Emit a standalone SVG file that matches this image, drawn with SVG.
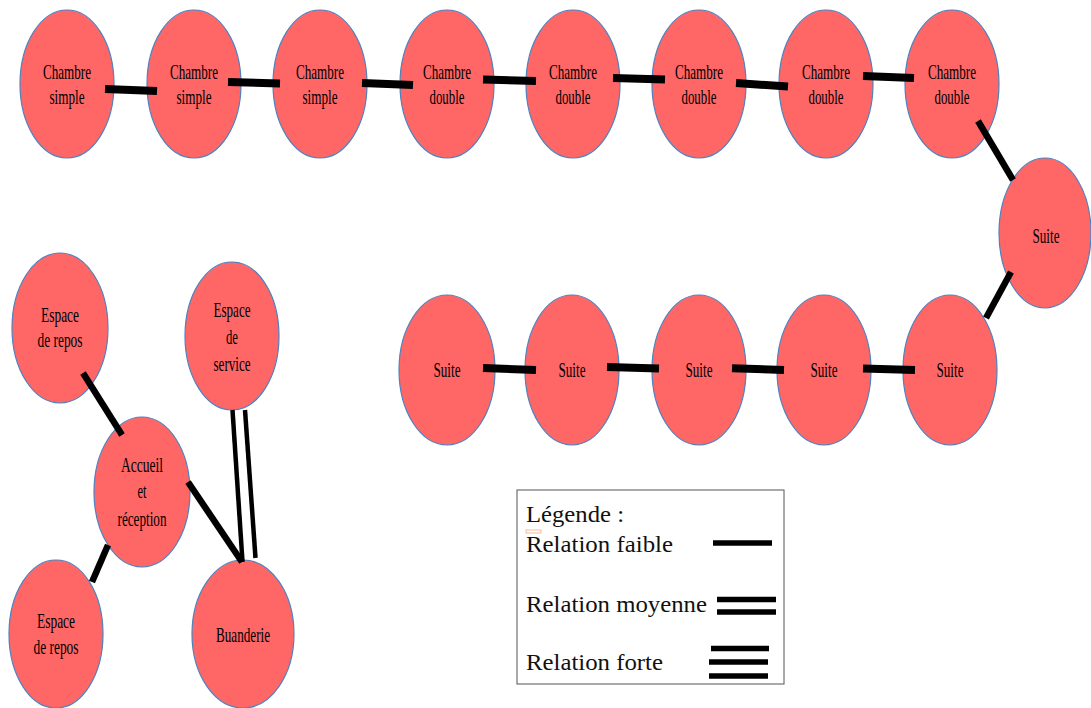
<svg xmlns="http://www.w3.org/2000/svg" width="1091" height="708" viewBox="0 0 1091 708">
<style>
.n ellipse{fill:#FF6666;stroke:#4F81BD;stroke-width:1.2}
.n text{font-family:"Liberation Serif","Times New Roman",serif;font-size:22px;fill:#000;text-anchor:middle}
.c line{stroke:#000;stroke-width:8}
.c line.d{stroke-width:6.5}
.c line.t{stroke-width:4.5}
.lg text{font-family:"Liberation Serif","Times New Roman",serif;font-size:24px;fill:#111}
.lg line{stroke:#000;stroke-width:5.5}
</style>
<rect width="1091" height="708" fill="#fff"/>
<g id="n1" class="n"><ellipse cx="67" cy="84" rx="47" ry="74"/><text x="67" y="79" textLength="48" lengthAdjust="spacingAndGlyphs">Chambre</text><text x="67" y="104" textLength="35" lengthAdjust="spacingAndGlyphs">simple</text></g>
<g id="n2" class="n"><ellipse cx="194" cy="84" rx="47" ry="74"/><text x="194" y="79" textLength="48" lengthAdjust="spacingAndGlyphs">Chambre</text><text x="194" y="104" textLength="35" lengthAdjust="spacingAndGlyphs">simple</text></g>
<g id="n3" class="n"><ellipse cx="320" cy="84" rx="47" ry="74"/><text x="320" y="79" textLength="48" lengthAdjust="spacingAndGlyphs">Chambre</text><text x="320" y="104" textLength="35" lengthAdjust="spacingAndGlyphs">simple</text></g>
<g id="n4" class="n"><ellipse cx="447" cy="84" rx="47" ry="74"/><text x="447" y="79" textLength="48" lengthAdjust="spacingAndGlyphs">Chambre</text><text x="447" y="104" textLength="35" lengthAdjust="spacingAndGlyphs">double</text></g>
<g id="n5" class="n"><ellipse cx="573" cy="84" rx="47" ry="74"/><text x="573" y="79" textLength="48" lengthAdjust="spacingAndGlyphs">Chambre</text><text x="573" y="104" textLength="35" lengthAdjust="spacingAndGlyphs">double</text></g>
<g id="n6" class="n"><ellipse cx="699" cy="84" rx="47" ry="74"/><text x="699" y="79" textLength="48" lengthAdjust="spacingAndGlyphs">Chambre</text><text x="699" y="104" textLength="35" lengthAdjust="spacingAndGlyphs">double</text></g>
<g id="n7" class="n"><ellipse cx="826" cy="84" rx="47" ry="74"/><text x="826" y="79" textLength="48" lengthAdjust="spacingAndGlyphs">Chambre</text><text x="826" y="104" textLength="35" lengthAdjust="spacingAndGlyphs">double</text></g>
<g id="n8" class="n"><ellipse cx="952" cy="84" rx="47" ry="74"/><text x="952" y="79" textLength="48" lengthAdjust="spacingAndGlyphs">Chambre</text><text x="952" y="104" textLength="35" lengthAdjust="spacingAndGlyphs">double</text></g>
<g id="n9" class="n"><ellipse cx="1045" cy="233" rx="46" ry="75"/><text x="1046" y="243" textLength="27" lengthAdjust="spacingAndGlyphs">Suite</text></g>
<g id="n10" class="n"><ellipse cx="950" cy="370" rx="47" ry="75"/><text x="950" y="377" textLength="27" lengthAdjust="spacingAndGlyphs">Suite</text></g>
<g id="n11" class="n"><ellipse cx="824" cy="370" rx="47" ry="75"/><text x="824" y="377" textLength="27" lengthAdjust="spacingAndGlyphs">Suite</text></g>
<g id="n12" class="n"><ellipse cx="699" cy="370" rx="47" ry="75"/><text x="699" y="377" textLength="27" lengthAdjust="spacingAndGlyphs">Suite</text></g>
<g id="n13" class="n"><ellipse cx="572" cy="370" rx="47" ry="75"/><text x="572" y="377" textLength="27" lengthAdjust="spacingAndGlyphs">Suite</text></g>
<g id="n14" class="n"><ellipse cx="447" cy="370" rx="48" ry="75"/><text x="447" y="377" textLength="27" lengthAdjust="spacingAndGlyphs">Suite</text></g>
<g id="n15" class="n"><ellipse cx="60" cy="328" rx="48" ry="75"/><text x="60" y="322" textLength="38" lengthAdjust="spacingAndGlyphs">Espace</text><text x="60" y="347" textLength="45" lengthAdjust="spacingAndGlyphs">de repos</text></g>
<g id="n16" class="n"><ellipse cx="232" cy="336" rx="47" ry="74"/><text x="232" y="317" textLength="37" lengthAdjust="spacingAndGlyphs">Espace</text><text x="232" y="344" textLength="12" lengthAdjust="spacingAndGlyphs">de</text><text x="232" y="371" textLength="37" lengthAdjust="spacingAndGlyphs">service</text></g>
<g id="n17" class="n"><ellipse cx="142" cy="492" rx="48" ry="75"/><text x="142" y="472" textLength="42" lengthAdjust="spacingAndGlyphs">Accueil</text><text x="142" y="498" textLength="9" lengthAdjust="spacingAndGlyphs">et</text><text x="142" y="526" textLength="49" lengthAdjust="spacingAndGlyphs">réception</text></g>
<g id="n18" class="n"><ellipse cx="56" cy="634" rx="47" ry="74"/><text x="56" y="628" textLength="38" lengthAdjust="spacingAndGlyphs">Espace</text><text x="56" y="654" textLength="45" lengthAdjust="spacingAndGlyphs">de repos</text></g>
<g id="n19" class="n"><ellipse cx="243" cy="634" rx="51" ry="74"/><text x="243" y="642" textLength="54" lengthAdjust="spacingAndGlyphs">Buanderie</text></g>
<g id="connectors" class="c">
<line x1="105" y1="89" x2="157" y2="91"/>
<line x1="228" y1="82" x2="280" y2="83.5"/>
<line x1="362" y1="83" x2="413" y2="85"/>
<line x1="483" y1="79.5" x2="536" y2="81"/>
<line x1="613" y1="78" x2="665" y2="79.5"/>
<line x1="736" y1="83" x2="788" y2="86.5"/>
<line x1="863" y1="76" x2="914" y2="78"/>
<line class="d" x1="978" y1="121" x2="1013" y2="180"/>
<line class="d" x1="1011" y1="272" x2="986" y2="318"/>
<line x1="483" y1="368" x2="536" y2="370"/>
<line x1="607" y1="367" x2="659" y2="368.5"/>
<line x1="732" y1="368.3" x2="784" y2="370"/>
<line x1="863" y1="368.5" x2="915" y2="370"/>
<line class="d" x1="83" y1="373" x2="122" y2="435"/>
<line class="d" x1="108" y1="545" x2="92" y2="582"/>
<line class="d" x1="188" y1="482" x2="242" y2="562"/>
<line class="t" x1="232.5" y1="410" x2="242.5" y2="562"/>
<line class="t" x1="245" y1="410" x2="255.5" y2="558"/>
</g>
<g id="legend" class="lg">
<rect x="517" y="490" width="267" height="194" fill="#fff" stroke="#555" stroke-width="1"/>
<text x="526" y="522" textLength="98" lengthAdjust="spacingAndGlyphs">Légende :</text>
<rect x="526" y="530" width="15" height="3" fill="none" stroke="#F4A582" stroke-width="0.8"/>
<text x="526" y="552" textLength="147" lengthAdjust="spacingAndGlyphs">Relation faible</text>
<text x="526" y="612" textLength="181" lengthAdjust="spacingAndGlyphs">Relation moyenne</text>
<text x="526" y="670" textLength="137" lengthAdjust="spacingAndGlyphs">Relation forte</text>
<line x1="713" y1="543" x2="772" y2="543"/>
<line x1="717" y1="599.5" x2="776" y2="599.5"/>
<line x1="717" y1="612" x2="776" y2="612"/>
<line x1="711" y1="648.5" x2="769" y2="648.5"/>
<line x1="709" y1="662" x2="768" y2="662"/>
<line x1="709" y1="676" x2="768" y2="676"/>
</g>
</svg>
